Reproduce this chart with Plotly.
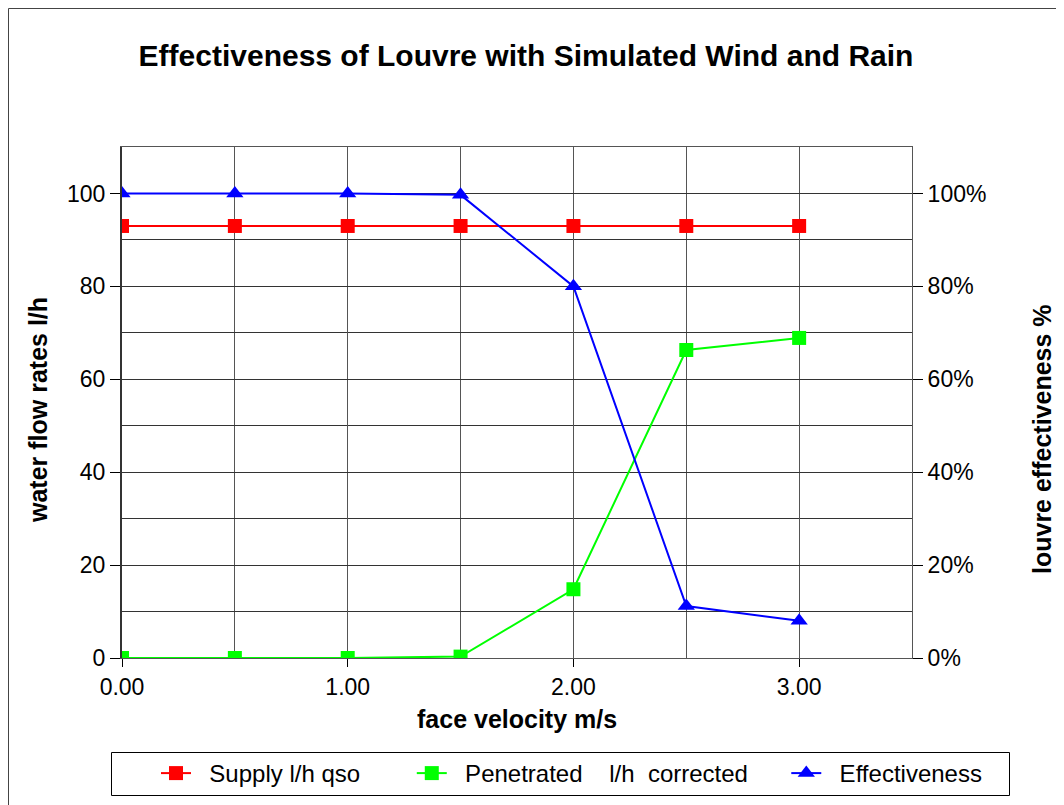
import plotly.graph_objects as go

velocity = [0.0, 0.5, 1.0, 1.5, 2.0, 2.5, 3.0]
supply = [93, 93, 93, 93, 93, 93, 93]
penetrated = [0, 0, 0, 0.3, 14.8, 66.3, 68.9]
effectiveness = [1.0, 1.0, 1.0, 0.997, 0.80, 0.112, 0.08]

NB = "\u00a0"
names = ["Supply l/h qso", "Penetrated" + NB * 4 + "l/h" + NB * 2 + "corrected", "Effectiveness"]

FONT = "Liberation Sans, Arial, sans-serif"

fig = go.Figure()
fig.add_trace(go.Scatter(x=velocity, y=supply, name=NB * 2 + names[0] + NB * 7, mode="lines+markers",
                         line=dict(color="#FF0000", width=2),
                         marker=dict(symbol="square", size=14, color="#FF0000")))
fig.add_trace(go.Scatter(x=velocity, y=penetrated, name=NB * 2 + names[1] + NB * 5, mode="lines+markers",
                         line=dict(color="#00FF00", width=2),
                         marker=dict(symbol="square", size=14, color="#00FF00")))
fig.add_trace(go.Scatter(x=velocity, y=effectiveness, name=NB * 2 + names[2], mode="lines+markers",
                         yaxis="y2",
                         line=dict(color="#0000FF", width=2),
                         marker=dict(symbol="triangle-up", size=15, color="#0000FF")))

# page body has an 8px margin: work in screen pixels and convert
OFF = 8
SW, SH = 1064, 805
PL, PR, PT, PB = 122, 912, 147, 658  # plot area in screen pixels
W, H = SW - OFF, SH - OFF
pw, ph = PR - PL, PB - PT


def px(x):
    return (x - PL) / pw


def py(y):
    return 1 - (y - PT) / ph


fig.update_layout(
    width=W, height=H,
    margin=dict(l=PL - OFF, r=SW - PR, t=PT - OFF, b=SH - PB, autoexpand=False),
    paper_bgcolor="white", plot_bgcolor="white",
    font=dict(family=FONT, size=23, color="black"),
    title=dict(text="<b>Effectiveness of Louvre with Simulated Wind and Rain</b>",
               x=px(526), xanchor="center", xref="paper",
               y=1 - (55 - OFF) / H, yanchor="middle",
               font=dict(size=30, family=FONT, color="black")),
    xaxis=dict(range=[0, 3.5], dtick=1, tick0=0, tickformat=".2f",
               showgrid=True, gridcolor="#555", gridwidth=1,
               minor=dict(dtick=0.5, showgrid=True, gridcolor="#555", gridwidth=1),
               ticks="outside", ticklen=8, tickcolor="black",
               showline=True, linecolor="#555", linewidth=1, mirror=True,
               zeroline=False, tickfont=dict(size=23)),
    yaxis=dict(range=[0, 110], dtick=20, tick0=0,
               showgrid=True, gridcolor="#333", gridwidth=1,
               minor=dict(dtick=10, showgrid=True, gridcolor="#333", gridwidth=1),
               ticks="outside", ticklen=10, tickcolor="black",
               showline=True, linecolor="#333", linewidth=2,
               zeroline=False, tickfont=dict(size=23)),
    yaxis2=dict(range=[0, 1.1], dtick=0.2, tick0=0, tickformat=".0%",
                overlaying="y", side="right", showgrid=False,
                ticks="outside", ticklen=10, tickcolor="black",
                showline=True, linecolor="#555", linewidth=1,
                zeroline=False, tickfont=dict(size=23)),
    showlegend=True,
    legend=dict(orientation="h", x=px(987), xanchor="right", y=py(751), yanchor="top",
                borderwidth=0, bgcolor="rgba(0,0,0,0)",
                font=dict(size=24, family=FONT), itemwidth=30,
                traceorder="normal"),
    annotations=[
        dict(text="<b>water flow rates l/h</b>", x=px(38), y=py(410), xref="paper", yref="paper",
             xanchor="center", yanchor="middle",
             textangle=-90, showarrow=False, font=dict(size=25)),
        dict(text="<b>louvre effectiveness %</b>", x=px(1042), y=py(439), xref="paper", yref="paper",
             xanchor="center", yanchor="middle",
             textangle=-90, showarrow=False, font=dict(size=25)),
        dict(text="<b>face velocity m/s</b>", x=px(517), y=py(719), xref="paper", yref="paper",
             xanchor="center", yanchor="middle",
             showarrow=False, font=dict(size=25)),
    ],
    shapes=[
        dict(type="rect", xref="paper", yref="paper", x0=px(8.5), x1=px(1075), y0=py(830), y1=py(8.5),
             line=dict(color="#444", width=1), fillcolor="rgba(0,0,0,0)", layer="below"),
        dict(type="rect", xref="paper", yref="paper", x0=px(111.5), x1=px(1009.5), y0=py(795.5), y1=py(752.5),
             line=dict(color="black", width=1), fillcolor="rgba(0,0,0,0)", layer="below"),
    ],
)

fig.write_html("out.html")
